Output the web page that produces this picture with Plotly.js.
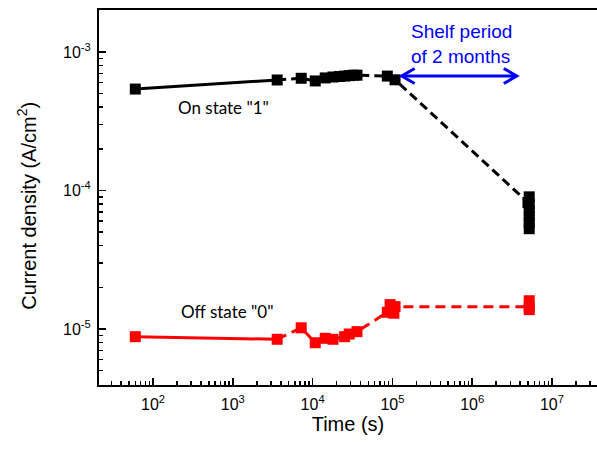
<!DOCTYPE html>
<html>
<head>
<meta charset="utf-8">
<script src="https://cdn.plot.ly/plotly-3.0.1.min.js"></script>
<style>
  html, body { margin: 0; padding: 0; background: #fff; }
  #chart { width: 597px; height: 450px; }
</style>
</head>
<body>
<div id="chart"></div>
<script>
// Retention test: current density read at the ON and OFF states over time (log-log)

// ON state "1" (black)
const onTime = [60, 3600, 7200, 10800, 14400, 18000, 21600, 25200, 28800, 32400, 36000,
                86400, 108000, 5.0e6, 5.184e6, 5.184e6, 5.184e6, 5.184e6, 5.184e6, 5.184e6];
const onCurrent = [5.4e-4, 6.28e-4, 6.46e-4, 6.18e-4, 6.5e-4, 6.6e-4, 6.65e-4, 6.7e-4, 6.75e-4, 6.8e-4, 6.8e-4,
                   6.7e-4, 6.3e-4, 8.2e-5, 9.0e-5, 8.0e-5, 7.2e-5, 6.5e-5, 5.9e-5, 5.3e-5];

// OFF state "0" (red)
const offTime = [60, 3600, 7200, 10800, 14400, 18000, 25200, 28800, 36000,
                 86400, 93600, 100800, 104400, 108000, 5.184e6, 5.184e6, 5.184e6];
const offCurrent = [8.8e-6, 8.43e-6, 1.02e-5, 7.96e-6, 8.57e-6, 8.43e-6, 8.8e-6, 9.2e-6, 9.57e-6,
                    1.32e-5, 1.5e-5, 1.42e-5, 1.3e-5, 1.45e-5, 1.45e-5, 1.6e-5, 1.38e-5];

// Tick labels
const xTickVals = [1e2, 1e3, 1e4, 1e5, 1e6, 1e7];
const xTickText = ['10<sup>2</sup>', '10<sup>3</sup>', '10<sup>4</sup>', '10<sup>5</sup>', '10<sup>6</sup>', '10<sup>7</sup>'];
const yTickVals = [1e-5, 1e-4, 1e-3];
const yTickText = ['10<sup>-5</sup>', '10<sup>-4</sup>', '10<sup>-3</sup>'];

// The first interval is drawn solid, the rest dashed
const solidCount = 2;

const markerOn = { symbol: 'square', size: 11, color: '#000000', line: { width: 0 } };
const markerOff = { symbol: 'square', size: 11, color: '#ff0000', line: { width: 0 } };

const traces = [
  { x: onTime.slice(0, solidCount), y: onCurrent.slice(0, solidCount), mode: 'lines',
    line: { color: '#000000', width: 3 }, hoverinfo: 'x+y' },
  { x: onTime.slice(solidCount - 1), y: onCurrent.slice(solidCount - 1), mode: 'lines',
    line: { color: '#000000', width: 3, dash: '9px,5px' }, hoverinfo: 'x+y' },
  { x: onTime, y: onCurrent, mode: 'markers', marker: markerOn, name: 'On state "1"' },
  { x: offTime.slice(0, solidCount), y: offCurrent.slice(0, solidCount), mode: 'lines',
    line: { color: '#ff0000', width: 3 }, hoverinfo: 'x+y' },
  { x: offTime.slice(solidCount - 1), y: offCurrent.slice(solidCount - 1), mode: 'lines',
    line: { color: '#ff0000', width: 3, dash: '10px,6px' }, hoverinfo: 'x+y' },
  { x: offTime, y: offCurrent, mode: 'markers', marker: markerOff, name: 'Off state "0"' }
];

const axisFont = { family: 'Liberation Sans, Arial, sans-serif', size: 16, color: '#000' };
const titleFont = { family: 'Liberation Sans, Arial, sans-serif', size: 20, color: '#000' };
const labelFont = { family: 'Lato, Open Sans, sans-serif', size: 17, color: '#000' };

// Double-headed arrow marking the shelf period (paper coordinates)
const arrowY = 0.824, arrowX0 = 0.6078, arrowX1 = 0.8388, headDx = 0.026, headDy = 0.02;
const blue = '#0000ff';

const layout = {
  width: 597,
  height: 450,
  margin: { l: 99, r: 0, t: 10, b: 65 },
  paper_bgcolor: '#ffffff',
  plot_bgcolor: '#ffffff',
  showlegend: false,
  xaxis: {
    type: 'log',
    range: [1.3233, 7.564],
    tickmode: 'array',
    tickvals: xTickVals,
    ticktext: xTickText,
    ticks: 'inside',
    ticklen: 7,
    tickwidth: 1.5,
    tickcolor: '#000',
    ticklabelstandoff: 4,
    minor: { ticks: 'inside', ticklen: 4, tickwidth: 1.5, tickcolor: '#000', dtick: 'D1', showgrid: false },
    showline: true,
    linecolor: '#000',
    linewidth: 2,
    mirror: true,
    showgrid: false,
    zeroline: false,
    tickfont: axisFont,
    title: { text: 'Time (s)', font: titleFont, standoff: 3 }
  },
  yaxis: {
    type: 'log',
    range: [-5.4043, -2.6968],
    tickmode: 'array',
    tickvals: yTickVals,
    ticktext: yTickText,
    ticks: 'inside',
    ticklen: 7,
    tickwidth: 1.5,
    tickcolor: '#000',
    ticklabelstandoff: 3,
    minor: { ticks: 'inside', ticklen: 4, tickwidth: 1.5, tickcolor: '#000', dtick: 'D1', showgrid: false },
    showline: true,
    linecolor: '#000',
    linewidth: 2,
    showgrid: false,
    zeroline: false,
    tickfont: axisFont
  },
  annotations: [
    { text: 'Current density (A/cm<sup>2</sup>)', xref: 'paper', yref: 'paper', x: -0.1446, y: 0.478,
      xanchor: 'center', yanchor: 'middle', textangle: -90, showarrow: false, font: titleFont },
    { text: 'On state "1"', xref: 'paper', yref: 'paper', x: 0.249, y: 0.7387,
      xanchor: 'center', yanchor: 'middle', showarrow: false, font: labelFont },
    { text: 'Off state "0"', xref: 'paper', yref: 'paper', x: 0.258, y: 0.1955,
      xanchor: 'center', yanchor: 'middle', showarrow: false, font: labelFont },
    { text: 'Shelf period<br>of 2 months', xref: 'paper', yref: 'paper', x: 0.728, y: 0.908,
      xanchor: 'center', yanchor: 'middle', showarrow: false, align: 'left',
      font: { family: 'Liberation Sans, Arial, sans-serif', size: 19, color: blue } }
  ],
  shapes: [
    { type: 'line', xref: 'paper', yref: 'paper', x0: arrowX0, x1: arrowX1, y0: arrowY, y1: arrowY,
      line: { color: blue, width: 3 } },
    { type: 'path', xref: 'paper', yref: 'paper',
      path: `M ${arrowX0 + headDx} ${arrowY + headDy} L ${arrowX0} ${arrowY} L ${arrowX0 + headDx} ${arrowY - headDy}`,
      line: { color: blue, width: 3 } },
    { type: 'path', xref: 'paper', yref: 'paper',
      path: `M ${arrowX1 - headDx} ${arrowY + headDy} L ${arrowX1} ${arrowY} L ${arrowX1 - headDx} ${arrowY - headDy}`,
      line: { color: blue, width: 3 } }
  ]
};

Plotly.newPlot('chart', traces, layout, { displayModeBar: false, staticPlot: true });
</script>
</body>
</html>
